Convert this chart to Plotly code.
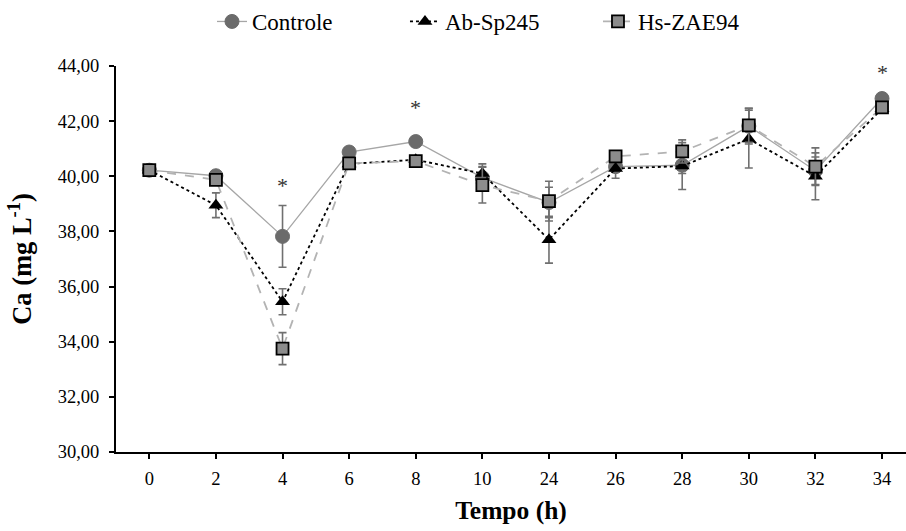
import plotly.graph_objects as go

tempo = ["0", "2", "4", "6", "8", "10", "24", "26", "28", "30", "32", "34"]

controle = [40.22, 40.02, 37.82, 40.88, 41.26, 39.95, 39.05, 40.35, 40.40, 41.82, 40.20, 42.82]
controle_err = [0.05, 0.10, 1.12, 0.10, 0.10, 0.40, 0.55, 0.20, 0.30, 0.65, 0.50, 0.10]

ab_sp245 = [40.22, 38.95, 35.45, 40.45, 40.60, 40.10, 37.70, 40.28, 40.37, 41.35, 40.00, 42.45]
ab_err = [0.05, 0.45, 0.47, 0.10, 0.10, 0.35, 0.85, 0.35, 0.85, 1.05, 0.85, 0.10]

hs_zae94 = [40.22, 39.87, 33.75, 40.47, 40.55, 39.68, 39.10, 40.72, 40.90, 41.85, 40.35, 42.50]
hs_err = [0.05, 0.15, 0.58, 0.10, 0.10, 0.65, 0.72, 0.15, 0.42, 0.62, 0.68, 0.10]

# significance marks
sig_tempo = ["4", "8", "34"]
sig_y = [39.65, 42.48, 43.75]

fig = go.Figure()

fig.add_trace(go.Scatter(
    x=tempo, y=controle, name="Controle", mode="lines+markers",
    line=dict(color="#a6a6a6", width=1.3),
    marker=dict(symbol="circle", size=14, color="#6b6b6b", line=dict(color="#6b6b6b", width=1)),
    error_y=dict(type="data", array=controle_err, color="#707070", thickness=1.6, width=4),
))
fig.add_trace(go.Scatter(
    x=tempo, y=ab_sp245, name="Ab-Sp245", mode="lines+markers",
    line=dict(color="black", width=1.8, dash="dot"),
    marker=dict(symbol="triangle-up", size=13, color="black"),
    error_y=dict(type="data", array=ab_err, color="#707070", thickness=1.6, width=4),
))
fig.add_trace(go.Scatter(
    x=tempo, y=hs_zae94, name="Hs-ZAE94", mode="lines+markers",
    line=dict(color="#b3b3b3", width=1.8, dash="dash"),
    marker=dict(symbol="square", size=12, color="#8c8c8c", line=dict(color="black", width=1.8)),
    error_y=dict(type="data", array=hs_err, color="#707070", thickness=1.6, width=4),
))

for t, y in zip(sig_tempo, sig_y):
    fig.add_annotation(x=tempo.index(t), y=y, text="*", showarrow=False,
                       font=dict(family="Liberation Serif", size=22, color="#333333"))

fig.update_layout(
    width=906, height=531,
    plot_bgcolor="white", paper_bgcolor="white",
    margin=dict(l=116, r=0, t=66, b=79),
    separators=",.",
    font=dict(family="Liberation Serif", size=18.5, color="black"),
    legend=dict(orientation="h", x=0.1215, xanchor="left", y=1, yref="container",
                yanchor="top", font=dict(family="Liberation Serif", size=23),
                entrywidth=148, traceorder="normal"),
    showlegend=True,
)
fig.update_xaxes(
    type="category", range=[-0.5, 11.36], automargin=False,
    showline=True, linecolor="black", linewidth=2,
    ticks="outside", ticklen=5, tickwidth=1.5, tickcolor="black", ticklabelstandoff=4,
    showgrid=False, zeroline=False,
    title=dict(text="<b>Tempo (h)</b>", font=dict(size=25.5), standoff=13),
)
fig.update_yaxes(
    range=[30, 44], dtick=2, tickformat=".2f", automargin=False,
    showline=True, linecolor="black", linewidth=2,
    ticks="outside", ticklen=5, tickwidth=1.5, tickcolor="black", ticklabelstandoff=6,
    showgrid=False, zeroline=False,
    title=dict(text="<b>Ca (mg L<sup>-1</sup>)</b>", font=dict(size=26.5), standoff=18),
)

fig.write_html("out.html", config={"displayModeBar": False},
               post_script="document.body.style.margin='0';")
